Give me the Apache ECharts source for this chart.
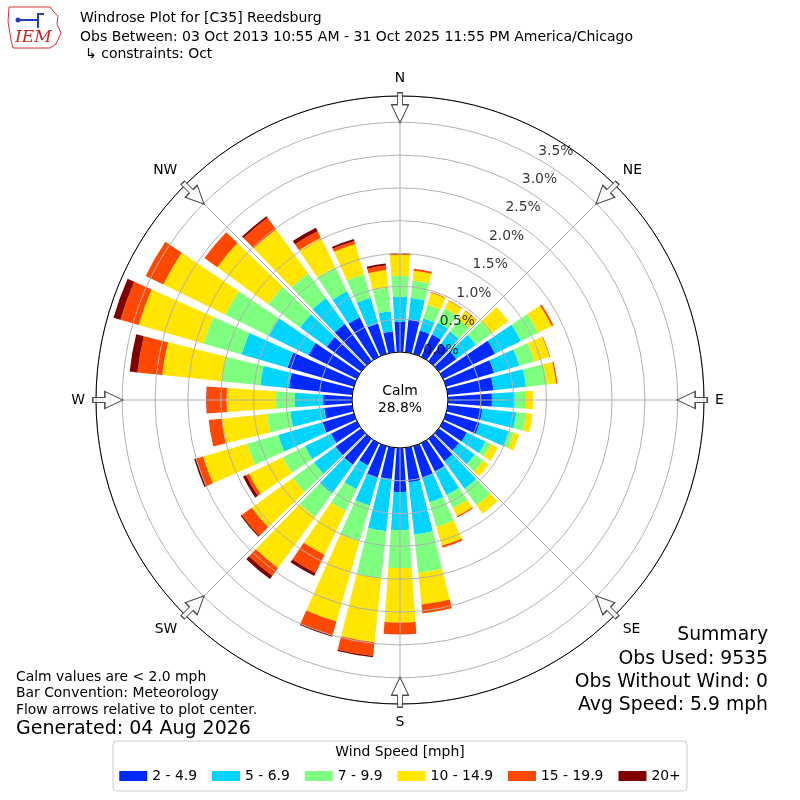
<!DOCTYPE html>
<html>
<head>
<meta charset="utf-8">
<script src="https://cdn.jsdelivr.net/npm/echarts@6/dist/echarts.min.js"></script>
<style>
  html, body { margin: 0; padding: 0; background: #fff; }
  #chart { width: 800px; height: 800px; }
</style>
</head>
<body>
<div id="chart"></div>
<script>
// Windrose for [C35] Reedsburg, October obs.
// Values are percent of all observations, per 10 degree direction bin.

const directions = [0, 10, 20, 30, 40, 50, 60, 70, 80, 90, 100, 110, 120, 130, 140, 150, 160, 170,
                    180, 190, 200, 210, 220, 230, 240, 250, 260, 270, 280, 290, 300, 310, 320, 330, 340, 350];

const speedBins = ['2 - 4.9', '5 - 6.9', '7 - 9.9', '10 - 14.9', '15 - 19.9', '20+'];
const binColors = ['#002aff', '#00d4ff', '#7fff7f', '#ffe500', '#ff4800', '#800000'];

const pct2to5 = [0.46, 0.50, 0.37, 0.38, 0.33, 0.33, 0.88, 0.76, 0.70, 0.67, 0.53, 0.53,
                 0.40, 0.38, 0.42, 0.48, 0.50, 0.53, 0.67, 0.48, 0.51, 0.38, 0.49, 0.48,
                 0.44, 0.50, 0.43, 0.44, 0.97, 1.05, 0.82, 0.65, 0.70, 0.67, 0.48, 0.32];
const pct5to7 = [0.38, 0.33, 0.19, 0.20, 0.23, 0.37, 0.44, 0.40, 0.50, 0.35, 0.52, 0.46,
                 0.32, 0.30, 0.52, 0.40, 0.39, 0.80, 0.58, 0.80, 0.43, 0.40, 0.54, 0.41,
                 0.44, 0.70, 0.52, 0.43, 0.44, 0.73, 0.67, 0.50, 0.49, 0.44, 0.41, 0.31];
const pct7to10 = [0.32, 0.27, 0.22, 0.24, 0.23, 0.29, 0.29, 0.24, 0.32, 0.17, 0.15, 0.08,
                  0.09, 0.16, 0.31, 0.22, 0.39, 0.59, 0.58, 0.72, 0.57, 0.37, 0.44, 0.40,
                  0.38, 0.49, 0.36, 0.30, 0.59, 0.60, 0.74, 0.60, 0.46, 0.41, 0.37, 0.36];
const pct10to15 = [0.32, 0.15, 0.19, 0.13, 0.16, 0.32, 0.23, 0.24, 0.14, 0.11, 0.10, 0.09,
                   0.12, 0.10, 0.16, 0.14, 0.30, 0.48, 0.83, 0.98, 1.27, 0.74, 0.96, 0.77,
                   0.57, 0.70, 0.69, 0.74, 0.91, 1.03, 1.05, 0.96, 0.83, 0.50, 0.48, 0.27];
const pct15to20 = [0.03, 0.03, 0.01, 0.01, 0.01, 0.00, 0.03, 0.01, 0.02, 0.00, 0.00, 0.00,
                   0.00, 0.00, 0.00, 0.02, 0.03, 0.14, 0.18, 0.21, 0.22, 0.31, 0.15, 0.19,
                   0.05, 0.11, 0.20, 0.30, 0.38, 0.29, 0.30, 0.24, 0.22, 0.11, 0.05, 0.07];
const pct20plus = [0, 0, 0, 0, 0, 0, 0, 0, 0, 0, 0, 0,
                   0, 0, 0, 0, 0, 0, 0, 0.02, 0.02, 0.05, 0.06, 0.02,
                   0.05, 0.03, 0, 0.01, 0.12, 0.11, 0, 0, 0.03, 0.06, 0.03, 0.03];

const ringTicks = [0, 0.5, 1.0, 1.5, 2.0, 2.5, 3.0, 3.5];
const ringLabels = ['0.0%', '0.5%', '1.0%', '1.5%', '2.0%', '2.5%', '3.0%', '3.5%'];
const compassLabels = ['N', 'NE', 'E', 'SE', 'S', 'SW', 'W', 'NW'];
const arrowAngles = [0, 45, 90, 135, 180, 225, 270, 315];
const calmPct = '28.8%';

const FONT = 'DejaVu Sans';
const rMax = 3.9;          // outer circle, in percent
const arrowRadius = 3.72;  // arrows straddle the outer circle
const ringLabelAngle = 30;

const binData = [pct2to5, pct5to7, pct7to10, pct10to15, pct15to20, pct20plus];
const center = [400, 400];
const radius = [48, 304];

const chart = echarts.init(document.getElementById('chart'), null, { renderer: 'canvas' });

const barSeries = speedBins.map((name, i) => ({
  type: 'bar',
  name: name,
  coordinateSystem: 'polar',
  polarIndex: 0,
  stack: 'rose',
  data: binData[i],
  barCategoryGap: '20%',
  itemStyle: { color: binColors[i] },
  silent: true,
  z: 2
}));

function txt(text, x, y, size, align) {
  return {
    type: 'text',
    z: 20,
    style: {
      text: text, x: x, y: y, fill: '#000',
      font: size + 'px "DejaVu Sans"',
      textAlign: align || 'left', align: align || 'left',
      textVerticalAlign: 'middle', verticalAlign: 'middle'
    }
  };
}

chart.setOption({
  animation: false,
  textStyle: { fontFamily: FONT },
  polar: [
    { center: center, radius: radius },
    { center: center, radius: radius }
  ],
  angleAxis: [
    {
      polarIndex: 0,
      type: 'category',
      data: directions,
      startAngle: 95,
      clockwise: true,
      boundaryGap: true,
      axisLine: { show: false },
      axisTick: { show: false },
      axisLabel: { show: false },
      splitLine: { show: false }
    },
    {
      polarIndex: 1,
      type: 'value',
      min: 0,
      max: 360,
      interval: 45,
      startAngle: 90,
      clockwise: true,
      z: 10,
      axisLine: { show: true, lineStyle: { color: '#000', width: 1 } },
      axisTick: { show: false },
      splitLine: { show: true, lineStyle: { color: '#b0b0b0', width: 1 } },
      axisLabel: {
        show: true,
        margin: 11,
        color: '#000',
        fontSize: 13.9,
        fontFamily: FONT,
        formatter: v => compassLabels[Math.round(v / 45) % 8]
      }
    }
  ],
  radiusAxis: [
    {
      polarIndex: 0,
      type: 'value',
      min: 0,
      max: rMax,
      axisLine: { show: false },
      axisTick: { show: false },
      axisLabel: { show: false },
      splitLine: { show: false }
    },
    {
      polarIndex: 1,
      type: 'value',
      min: 0,
      max: rMax,
      interval: 0.5,
      z: 9,
      axisLine: { show: false },
      axisTick: { show: false },
      axisLabel: { show: false },
      splitLine: { show: true, lineStyle: { color: '#b0b0b0', width: 1 } }
    }
  ],
  legend: {
    data: speedBins,
    left: 'center',
    top: 764,
    icon: 'rect',
    itemWidth: 28,
    itemHeight: 10,
    itemGap: 15,
    selectedMode: false,
    textStyle: { fontSize: 13.9, color: '#000', fontFamily: FONT }
  },
  series: barSeries.concat([
    {
      // flow arrows on the outer circle
      type: 'scatter',
      coordinateSystem: 'polar',
      polarIndex: 1,
      silent: true,
      symbol: 'path://M6,0L11,0L11,12L17,12L8.5,30L0,12L6,12Z',
      symbolSize: [17, 30],
      itemStyle: { color: '#fff', borderColor: '#222', borderWidth: 1.2 },
      data: arrowAngles.map(a => ({ value: [arrowRadius, a], symbolRotate: -a })),
      z: 12
    },
    {
      // ring percent labels
      type: 'scatter',
      coordinateSystem: 'polar',
      polarIndex: 1,
      silent: true,
      symbolSize: 1,
      itemStyle: { color: 'rgba(0,0,0,0)' },
      data: ringTicks.map(v => [v, ringLabelAngle]),
      label: {
        show: true,
        position: 'inside',
        offset: [17, -8.5],
        color: '#000',
        fontSize: 13.9,
        fontFamily: FONT,
        formatter: p => ringLabels[p.dataIndex]
      },
      z: 13
    }
  ]),
  graphic: [
    // IEM logo (rough)
    {
      type: 'polygon',
      shape: { points: [[9, 7], [50, 7], [54, 12], [58, 16], [57, 24], [61, 33], [56, 44], [50, 48], [13, 48], [11, 40], [8, 22]] },
      style: { fill: null, stroke: '#e03030', lineWidth: 1 }
    },
    {
      type: 'polyline',
      shape: { points: [[18, 20], [38, 20], [38, 14], [44, 14]] },
      style: { stroke: '#2040c0', lineWidth: 2, fill: null }
    },
    {
      type: 'polyline',
      shape: { points: [[38, 20], [38, 28]] },
      style: { stroke: '#2040c0', lineWidth: 2, fill: null }
    },
    {
      type: 'circle',
      shape: { cx: 18, cy: 20, r: 2.5 },
      style: { fill: '#2040c0' }
    },
    {
      type: 'text',
      style: { text: 'IEM', x: 15, y: 38, fill: '#d02020', font: 'italic 17px "DejaVu Serif"', textVerticalAlign: 'middle', verticalAlign: 'middle' }
    },
    // titles
    txt('Windrose Plot for [C35] Reedsburg', 80, 18, 14),
    txt('Obs Between: 03 Oct 2013 10:55 AM - 31 Oct 2025 11:55 PM America/Chicago', 80, 37, 14),
    txt('\u21b3 constraints: Oct', 85, 54, 14),
    // calm in the middle
    txt('Calm', 400, 391, 13.9, 'center'),
    txt(calmPct, 400, 408, 13.9, 'center'),
    // summary block
    txt('Summary', 768, 635, 18.8, 'right'),
    txt('Obs Used: 9535', 768, 659, 18.8, 'right'),
    txt('Obs Without Wind: 0', 768, 682, 18.8, 'right'),
    txt('Avg Speed: 5.9 mph', 768, 705, 18.8, 'right'),
    // notes
    txt('Calm values are < 2.0 mph', 16, 677, 13.9),
    txt('Bar Convention: Meteorology', 16, 693, 13.9),
    txt('Flow arrows relative to plot center.', 16, 710, 13.9),
    txt('Generated: 04 Aug 2026', 16, 729, 19),
    // legend frame + title
    {
      type: 'rect',
      z: -1,
      shape: { x: 113, y: 741, width: 574, height: 50, r: 4 },
      style: { fill: '#fff', stroke: '#cccccc', lineWidth: 1 }
    },
    txt('Wind Speed [mph]', 400, 752, 13.9, 'center')
  ]
});
</script>
</body>
</html>
